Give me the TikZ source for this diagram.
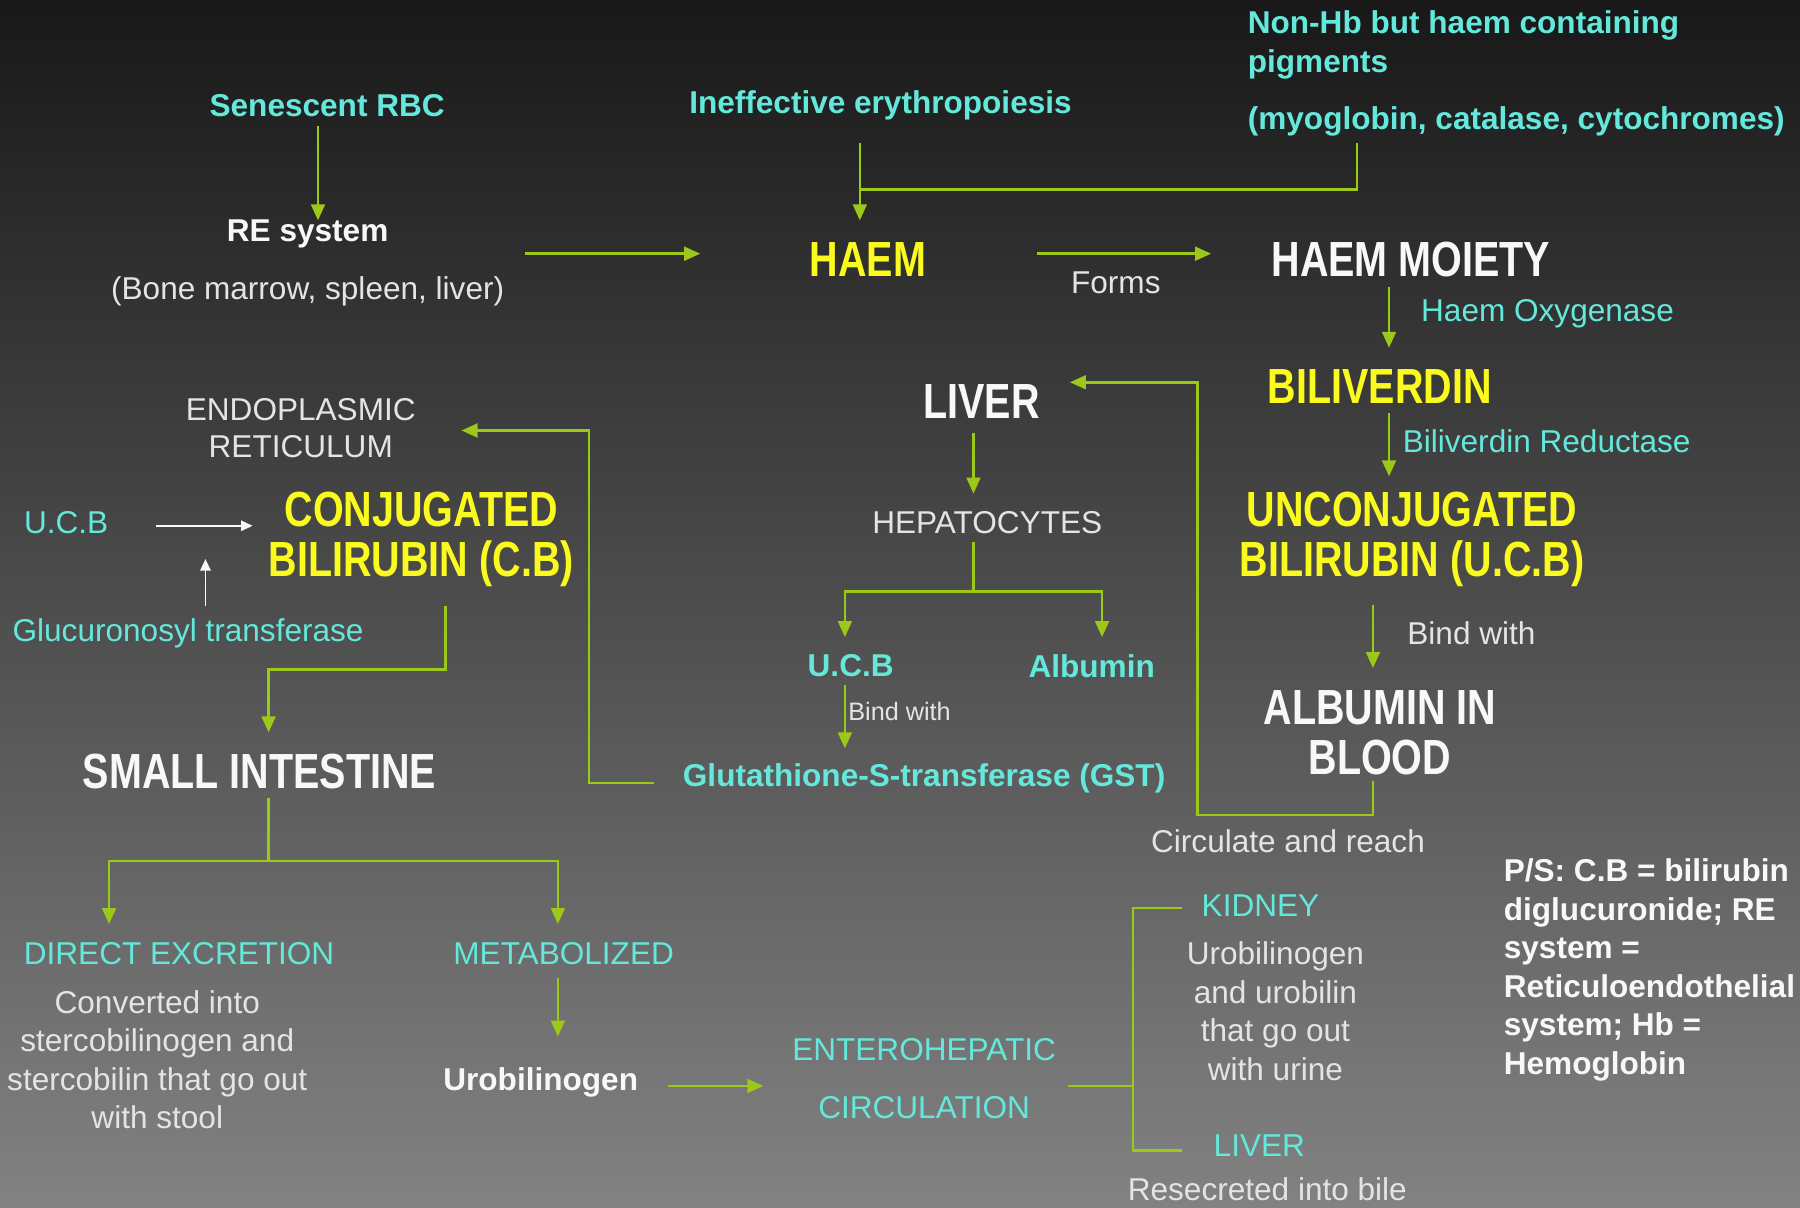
\documentclass[tikz,border=0pt]{standalone}
\usepackage{fontspec}
\setmainfont{Liberation Sans}
\newfontfamily\dispfont[FakeStretch=0.8]{Liberation Sans}
\usetikzlibrary{arrows.meta}
\definecolor{bgtop}{RGB}{24,24,24}
\definecolor{bgbot}{RGB}{130,130,130}
\definecolor{cyanT}{RGB}{100,232,220}
\definecolor{yellowT}{RGB}{250,250,30}
\definecolor{whiteT}{RGB}{248,248,248}
\definecolor{greyT}{RGB}{228,228,228}
\definecolor{arrowG}{RGB}{155,200,25}
\tikzset{
  base/.style={inner sep=0pt, outer sep=0pt},
  cyb/.style={base, text=cyanT, font=\fontsize{27.5}{33.5}\selectfont\bfseries},
  cyr/.style={base, text=cyanT, font=\fontsize{27.5}{33.5}\selectfont},
  whb/.style={base, text=whiteT, font=\fontsize{27.5}{33.5}\selectfont\bfseries},
  whr/.style={base, text=greyT, font=\fontsize{27.5}{33.5}\selectfont},
  disy/.style={base, align=center, text=yellowT, font=\dispfont\bfseries\fontsize{43}{43.5}\selectfont},
  disw/.style={base, align=center, text=whiteT, font=\dispfont\bfseries\fontsize{43}{43.5}\selectfont},
  arr/.style={draw=arrowG, line width=2.3pt, -{Triangle[length=14pt,width=12pt]}},
  ln/.style={draw=arrowG, line width=2.3pt},
  warr/.style={draw=whiteT, line width=1.6pt, -{Triangle[length=10pt,width=9pt]}},
}
\begin{document}
\begin{tikzpicture}[x=1pt,y=-1pt]
\shade[top color=bgtop,bottom color=bgbot] (0,0) rectangle (1568,1052);
\useasboundingbox (0,0) rectangle (1568,1052);

% --- top row
\node[cyb] (sen) at (285,92) {Senescent RBC};
\node[whb] (re) at (268,204) {RE system};
\node[whr] (bone) at (268,254) {(Bone marrow, spleen, liver)};
\node[cyb] (ineff) at (767,92) {Ineffective erythropoiesis};
\node[cyb, anchor=west, align=left] (nonhb) at (1087,39) {Non-Hb but haem containing\\pigments};
\node[cyb, anchor=west] (myo) at (1087,106) {(myoglobin, catalase, cytochromes)};
\node[disy] (haem) at (756,226) {HAEM};
\node[whr] (forms) at (972,246) {Forms};
\node[disw] (moiety) at (1229,226) {HAEM MOIETY};
\node[cyr, anchor=west] (hox) at (1238,273) {Haem Oxygenase};
\node[disy] (bili) at (1202,337) {BILIVERDIN};
\node[cyr, anchor=west] (bred) at (1222,384) {Biliverdin Reductase};
\node[disy] (ucb) at (1230,470) {UNCONJUGATED\\BILIRUBIN (U.C.B)};
\node[whr, anchor=west] (bind1) at (1226,552) {Bind with};
\node[disw] (alb) at (1202,638) {ALBUMIN IN\\BLOOD};
\node[whr] (circ) at (1122,733) {Circulate and reach};

% --- liver column
\node[disw] (liver) at (855,350) {LIVER};
\node[whr] (hep) at (860,455) {HEPATOCYTES};
\node[cyb] (ucb2) at (741,580) {U.C.B};
\node[cyb] (albumin) at (951,580) {Albumin};
\node[base, text=greyT, font=\fontsize{22}{26}\selectfont, anchor=west] (bind2) at (739,620) {Bind with};
\node[cyb] (gst) at (805,678) {Glutathione-S-transferase (GST)};

% --- left column
\node[whr, align=center, font=\fontsize{27.5}{32}\selectfont] (er) at (262,373) {ENDOPLASMIC\\RETICULUM};
\node[cyr, anchor=west] (ucbl) at (21,455) {U.C.B};
\node[disy] (cb) at (367,470) {CONJUGATED\\BILIRUBIN (C.B)};
\node[cyr, anchor=west] (glu) at (11,552) {Glucuronosyl transferase};
\node[disw] (si) at (226,672) {SMALL INTESTINE};
\node[cyr] (direct) at (156,831) {DIRECT EXCRETION};
\node[whr, align=center] (conv) at (137,923) {Converted into\\stercobilinogen and\\stercobilin that go out\\with stool};
\node[cyr] (metab) at (491,831) {METABOLIZED};
\node[whb] (urob) at (471,943) {Urobilinogen};
\node[cyr, align=center] (entero) at (805,940) {ENTEROHEPATIC\\[17pt]CIRCULATION};
\node[cyr] (kidney) at (1098,789) {KIDNEY};
\node[whr, align=center] (uro2) at (1111,881) {Urobilinogen\\and urobilin\\that go out\\with urine};
\node[cyr] (liver2) at (1097,998) {LIVER};
\node[whr] (resec) at (1104,1036) {Resecreted into bile};
\node[whb, anchor=west, align=left] (ps) at (1310,845) {P/S: C.B = bilirubin\\diglucuronide; RE\\system =\\Reticuloendothelial\\system; Hb =\\Hemoglobin};

% --- connectors
\coordinate (jtop) at (749,165);
\draw[arr] (277,110) -- (277,192);
\draw[arr] (457,221) -- (610,221);
\draw[arr] (749,125) -- (749,192);
\draw[ln] (1182,125) -- (1182,165) -- (jtop);
\draw[arr] (903,221) -- (1055,221);
\draw[arr] (1210,250) -- (1210,303);
\draw[arr] (1210,360) -- (1210,415);
\draw[arr] (1196,527) -- (1196,582);
\draw[arr] (1196,680) -- (1196,710) -- (1043,710) -- (1043,333) -- (932,333);
\draw[arr] (848,377) -- (848,430);
\coordinate (jhep) at (848,515);
\draw[arr] (848,472) -- (jhep) -| (736,555);
\draw[arr] (jhep) -| (960,555);
\draw[arr] (736,597) -- (736,652);
\draw[arr] (570,682) -- (513,682) -- (513,375) -- (402,375);
\draw[warr] (136,458) -- (220,458);
\draw[warr] (179,528) -- (179,487);
\draw[arr] (388,528) -- (388,583) -- (234,583) -- (234,638);
\coordinate (jsi) at (234,750);
\draw[arr] (234,695) -- (jsi) -| (95,805);
\draw[arr] (jsi) -| (486,805);
\draw[arr] (486,852) -- (486,903);
\draw[arr] (582,946) -- (665,946);
\draw[ln] (930,946) -- (987,946);
\draw[ln] (1030,791) -- (987,791) -- (987,1002) -- (1030,1002);
\end{tikzpicture}
\end{document}
